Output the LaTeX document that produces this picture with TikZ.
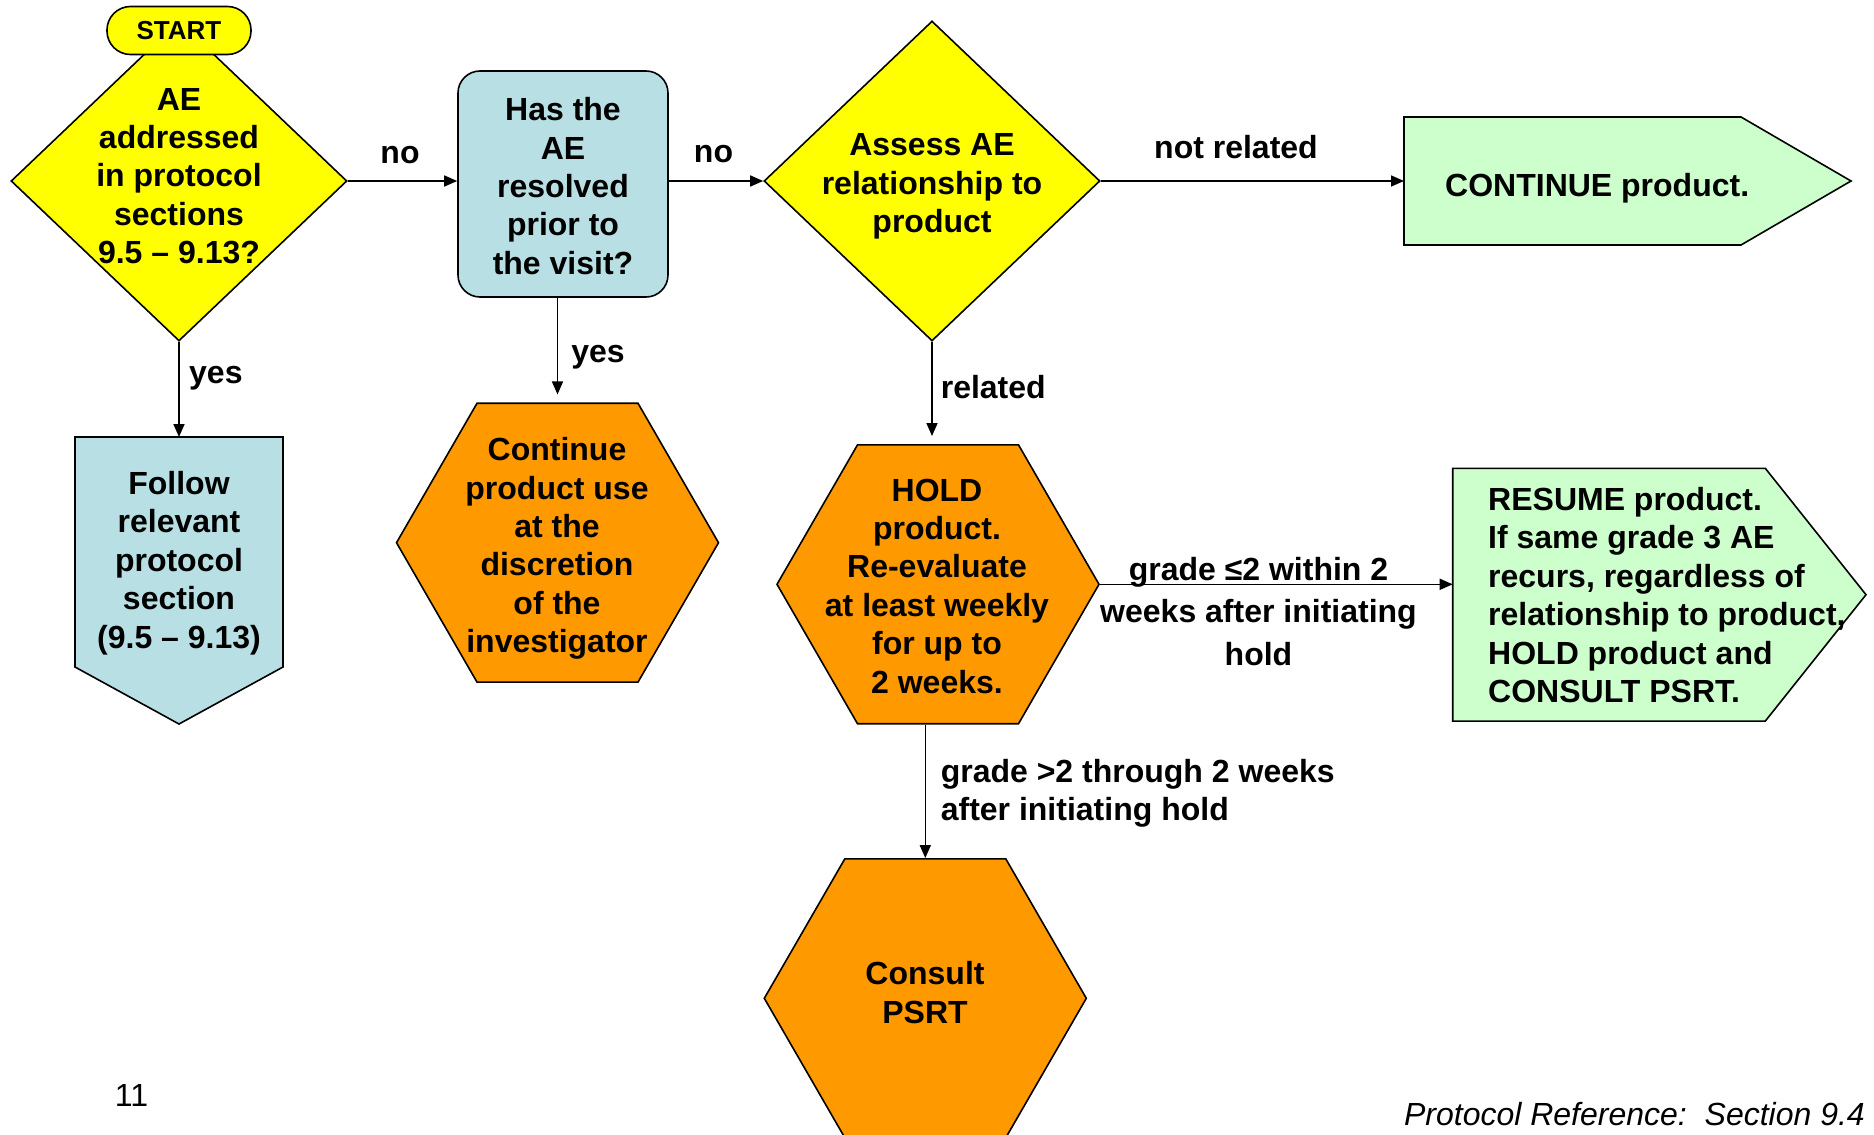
\documentclass[tikz,border=0pt]{standalone}
\usepackage{fontspec}
\setmainfont{Liberation Sans}
\usetikzlibrary{shapes.geometric,arrows.meta,calc}

\definecolor{decision}{HTML}{FFFF00}
\definecolor{querybox}{HTML}{B8DFE3}
\definecolor{action}{HTML}{FF9900}
\definecolor{goahead}{HTML}{CCFFCC}

\tikzset{
  body/.style={font=\bfseries\fontsize{32}{38.4}\selectfont, align=center, inner sep=0pt},
  lbl/.style={font=\bfseries\fontsize{32}{38.4}\selectfont, inner sep=0pt},
  outline/.style={draw=black, line width=1.6pt, line join=miter},
  decisionbox/.style={outline, diamond, fill=decision, minimum width=336pt, minimum height=320pt, inner sep=0pt},
  hexbox/.style={outline, regular polygon, regular polygon sides=6, fill=action, minimum size=322pt, inner sep=0pt},
  frame/.style={inner sep=0pt, outer sep=0pt},
  conn/.style={line width=1.6pt, -{Triangle[length=13pt,width=11pt]}},
}

\begin{document}
\begin{tikzpicture}[x=1pt, y=-1pt]
\useasboundingbox (0,0) rectangle (1874,1135);
\clip (0,0) rectangle (1874,1135);

% decisions
\node[decisionbox] (addressed) at (179,181) {};
\node[body] (addressedtxt) at (179,176) {AE\\addressed\\in protocol\\sections\\9.5 -- 9.13?};
\node[outline, fill=decision, rounded corners=23.5pt, minimum width=144pt, minimum height=48pt,
      inner sep=0pt, font=\bfseries\fontsize{26}{30}\selectfont] (start) at (179,30.5) {START};

\node[outline, fill=querybox, rounded corners=22pt, minimum width=210pt, minimum height=226pt, body]
  (resolved) at (563,184) {};
\node[body] (resolvedtxt) at (563,186) {Has the\\AE\\resolved\\prior to\\the visit?};

\node[decisionbox] (assess) at (932,181) {};
\node[body] (assesstxt) at (932,186.5) {Assess AE\\relationship to\\product};

% continue product (pointer to the right)
\node[frame, minimum width=337pt, minimum height=128pt] (cont) at (1572.5,181) {};
\draw[outline, fill=goahead] (cont.north west) -- (cont.north east) -- ($(cont.east)+(110,0)$)
  -- (cont.south east) -- (cont.south west) -- cycle;
\node[lbl, anchor=west] (conttxt) at (1445,188.5) {CONTINUE product.};

% follow protocol section (pointer downwards)
\node[frame, minimum width=208pt, minimum height=230pt] (follow) at (179,552) {};
\draw[outline, fill=querybox] (follow.north west) -- (follow.north east) -- (follow.south east)
  -- ($(follow.south)+(0,57)$) -- (follow.south west) -- cycle;
\node[body] (followtxt) at (179,563) {Follow\\relevant\\protocol\\section\\(9.5 -- 9.13)};

% actions
\node[hexbox] (discretion) at (557.5,542.7) {};
\node[body] (discretiontxt) at (557,548.5) {Continue\\product use\\at the\\discretion\\of the\\investigator};

\node[hexbox] (hold) at (938,584.3) {};
\node[body] (holdtxt) at (937,586) {HOLD\\product.\\Re-evaluate\\at least weekly\\for up to\\2 weeks.};

\node[hexbox] (consult) at (925.3,998.3) {};
\node[body] (consulttxt) at (925,992.5) {Consult\\PSRT};

% resume product (pointer to the right)
\node[frame, minimum width=312.6pt, minimum height=252.7pt] (resume) at (1609,594.7) {};
\draw[outline, fill=goahead] (resume.north west) -- (resume.north east) -- ($(resume.east)+(100.7,0)$)
  -- (resume.south east) -- (resume.south west) -- cycle;
\node[body, align=left, anchor=west] (resumetxt) at (1488,595)
  {RESUME product.\\If same grade 3 AE\\recurs, regardless of\\relationship to product,\\HOLD product and\\CONSULT PSRT.};

% connectors
\draw[conn] (addressed.east) -- (resolved.west |- addressed.east);
\draw[conn] (resolved.east |- assess.west) -- (assess.west);
\draw[conn] (assess.east) -- (cont.west);
\draw[conn] (addressed.south) -- (follow.north);
\draw[conn] (discretion.north |- resolved.south) -- ([yshift=8pt]discretion.north);
\draw[conn] (assess.south) -- ([yshift=8pt]assess.south |- hold.north);
\draw[conn] (hold.east) -- (resume.west |- hold.east);
\draw[conn] (consult.north |- hold.south) -- (consult.north);

% connector labels
\node[lbl] (noA) at (400,155.5) {no};
\node[lbl] (noB) at (713.5,154.5) {no};
\node[lbl] (notrel) at (1236,147) {not related};
\node[lbl, anchor=west] (yesA) at (189,378) {yes};
\node[lbl] (yesB) at (598,357) {yes};
\node[lbl, anchor=west] (rel) at (940.6,387) {related};
\node[body, font=\bfseries\fontsize{32}{42.5}\selectfont] (lowgrade) at (1258.5,611.5)
  {grade ≤2 within 2\\weeks after initiating\\hold};
\node[body, align=left, anchor=west] (highgrade) at (940.6,793.5)
  {grade >2 through 2 weeks\\after initiating hold};

% footer
\node[font=\fontsize{32}{38}\selectfont, inner sep=0pt] (pagenum) at (131.5,1095) {11};
\node[font=\itshape\fontsize{32}{38}\selectfont, inner sep=0pt, anchor=east] (ref) at (1865,1114)
  {Protocol Reference:\ \ Section 9.4};
\end{tikzpicture}
\end{document}
